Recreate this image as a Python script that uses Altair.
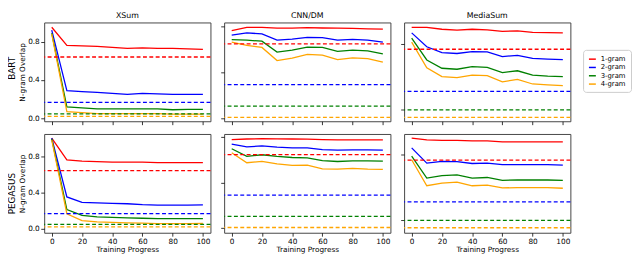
import altair as alt
import pandas as pd

progress = [0, 10, 20, 30, 40, 50, 60, 70, 80, 90, 100]
ngrams = ["1-gram", "2-gram", "3-gram", "4-gram"]
colors = ["red", "blue", "green", "orange"]
datasets = ["XSum", "CNN/DM", "MediaSum"]
models = ["BART", "PEGASUS"]

# Fine-tuned model n-gram overlap over training progress
bart_xsum = {
    "1-gram": [0.95, 0.76, 0.755, 0.75, 0.74, 0.73, 0.735, 0.73, 0.73, 0.725, 0.72],
    "2-gram": [0.92, 0.29, 0.28, 0.27, 0.26, 0.25, 0.26, 0.255, 0.25, 0.25, 0.25],
    "3-gram": [0.89, 0.12, 0.11, 0.10, 0.10, 0.10, 0.10, 0.10, 0.09, 0.095, 0.095],
    "4-gram": [0.88, 0.07, 0.06, 0.05, 0.05, 0.05, 0.05, 0.05, 0.045, 0.045, 0.045],
}
bart_cnndm = {
    "1-gram": [0.96, 0.987, 0.987, 0.98, 0.98, 0.985, 0.982, 0.98, 0.978, 0.975, 0.972],
    "2-gram": [0.92, 0.939, 0.931, 0.877, 0.885, 0.901, 0.899, 0.877, 0.883, 0.877, 0.859],
    "3-gram": [0.88, 0.877, 0.867, 0.773, 0.789, 0.816, 0.813, 0.779, 0.789, 0.784, 0.757],
    "4-gram": [0.859, 0.832, 0.813, 0.699, 0.72, 0.752, 0.747, 0.707, 0.723, 0.715, 0.685],
}
bart_mediasum = {
    "1-gram": [0.949, 0.949, 0.932, 0.924, 0.932, 0.927, 0.913, 0.918, 0.904, 0.901, 0.899],
    "2-gram": [0.899, 0.772, 0.718, 0.71, 0.727, 0.724, 0.682, 0.693, 0.665, 0.659, 0.654],
    "3-gram": [0.851, 0.651, 0.575, 0.566, 0.589, 0.583, 0.535, 0.552, 0.513, 0.504, 0.499],
    "4-gram": [0.814, 0.58, 0.499, 0.49, 0.513, 0.507, 0.451, 0.473, 0.431, 0.423, 0.417],
}
pegasus_xsum = {
    "1-gram": [1.0, 0.76, 0.745, 0.74, 0.735, 0.735, 0.735, 0.73, 0.73, 0.73, 0.73],
    "2-gram": [1.0, 0.35, 0.29, 0.285, 0.28, 0.275, 0.265, 0.26, 0.26, 0.26, 0.263],
    "3-gram": [0.99, 0.21, 0.148, 0.13, 0.125, 0.12, 0.115, 0.11, 0.11, 0.11, 0.112],
    "4-gram": [0.98, 0.165, 0.09, 0.075, 0.07, 0.065, 0.06, 0.055, 0.055, 0.055, 0.057],
}
pegasus_cnndm = {
    "1-gram": [0.976, 0.981, 0.984, 0.982, 0.981, 0.979, 0.976, 0.973, 0.973, 0.973, 0.973],
    "2-gram": [0.936, 0.912, 0.92, 0.909, 0.904, 0.904, 0.888, 0.883, 0.885, 0.885, 0.883],
    "3-gram": [0.896, 0.829, 0.843, 0.829, 0.819, 0.816, 0.792, 0.784, 0.789, 0.789, 0.787],
    "4-gram": [0.861, 0.773, 0.784, 0.763, 0.749, 0.752, 0.72, 0.717, 0.723, 0.717, 0.715],
}
pegasus_mediasum = {
    "1-gram": [0.952, 0.935, 0.932, 0.93, 0.927, 0.927, 0.918, 0.918, 0.918, 0.918, 0.918],
    "2-gram": [0.862, 0.721, 0.738, 0.735, 0.718, 0.721, 0.707, 0.707, 0.707, 0.707, 0.704],
    "3-gram": [0.786, 0.583, 0.606, 0.614, 0.583, 0.589, 0.563, 0.566, 0.566, 0.566, 0.563],
    "4-gram": [0.752, 0.513, 0.538, 0.546, 0.513, 0.518, 0.493, 0.496, 0.496, 0.496, 0.49],
}

# Reference-summary n-gram overlap (dashed lines), order: 1..4-gram
reference = {
    "XSum": [0.64, 0.167, 0.048, 0.02],
    "CNN/DM": [0.845, 0.49, 0.303, 0.206],
    "MediaSum": [0.749, 0.364, 0.194, 0.126],
}

series = {
    ("BART", "XSum"): bart_xsum,
    ("BART", "CNN/DM"): bart_cnndm,
    ("BART", "MediaSum"): bart_mediasum,
    ("PEGASUS", "XSum"): pegasus_xsum,
    ("PEGASUS", "CNN/DM"): pegasus_cnndm,
    ("PEGASUS", "MediaSum"): pegasus_mediasum,
}

y_domains = {
    ("BART", "XSum"): [-0.03, 1.0],
    ("BART", "CNN/DM"): [0.172, 1.03],
    ("BART", "MediaSum"): [0.09, 0.994],
    ("PEGASUS", "XSum"): [-0.045, 1.045],
    ("PEGASUS", "CNN/DM"): [0.16, 1.025],
    ("PEGASUS", "MediaSum"): [0.08, 0.99],
}

FONT = "DejaVu Sans"
cscale = alt.Scale(domain=ngrams, range=colors)
tick_candidates = [0.0, 0.2, 0.4, 0.6, 0.8, 1.0]

LEGEND = alt.Legend(
    title=None, orient="none", legendX=551, legendY=28,
    symbolType="stroke", symbolStrokeWidth=1.5, symbolSize=50,
    labelFontSize=7, labelFont=FONT, labelColor="black",
    strokeColor="#cccccc", cornerRadius=3, padding=5,
    rowPadding=0.5, fillColor="white", labelOffset=4,
)


def panel(model, ds, row, col):
    rows = []
    for ng in ngrams:
        for p, v in zip(progress, series[(model, ds)][ng]):
            rows.append({"progress": p, "value": v, "ngram": ng})
    df = pd.DataFrame(rows)
    ref = pd.DataFrame({"ngram": ngrams, "value": reference[ds]})
    dom = y_domains[(model, ds)]
    ticks = [t for t in tick_candidates if dom[0] <= t <= dom[1]]
    bottom = row == 1
    left = col == 0

    xenc = alt.X(
        "progress:Q",
        scale=alt.Scale(domain=[-5, 105], nice=False, zero=False),
        axis=alt.Axis(values=[0, 20, 40, 60, 80, 100], labels=bottom,
                      title="Training Progress" if bottom else None),
    )
    yenc = alt.Y(
        "value:Q",
        scale=alt.Scale(domain=dom, nice=False, zero=False),
        axis=alt.Axis(values=ticks, labels=left, format=".1f",
                      title="N-gram Overlap" if left else None),
    )
    lines = alt.Chart(df).mark_line(strokeWidth=1.3).encode(
        x=xenc, y=yenc,
        color=alt.Color("ngram:N", scale=cscale, legend=LEGEND),
    )
    rules = alt.Chart(ref).mark_rule(strokeWidth=1.3, strokeDash=[4, 2.5]).encode(
        y=alt.Y("value:Q"),
        color=alt.Color("ngram:N", scale=cscale, legend=LEGEND),
    )
    ch = alt.layer(lines, rules).properties(width=170, height=101)
    if row == 0:
        ch = ch.properties(title=alt.TitleParams(ds, fontSize=8, offset=3))
    return ch


rows_charts = []
for r, m in enumerate(models):
    panels = [panel(m, ds, r, c) for c, ds in enumerate(datasets)]
    rows_charts.append(
        alt.hconcat(*panels, spacing=7).properties(
            title=alt.TitleParams(m, orient="left", fontSize=9, offset=1, anchor="middle")
        )
    )

chart = (
    alt.vconcat(*rows_charts, spacing=7)
    .properties(padding={"left": 0, "top": 0, "right": 0, "bottom": 0}, background="white")
    .configure_view(stroke="#444444", strokeWidth=1)
    .configure_axis(
        domain=False, grid=False, tickColor="black", tickSize=3.5, tickWidth=0.8,
        labelFontSize=7.5, titleFontSize=7.5, labelFont=FONT, titleFont=FONT,
        titleFontWeight="normal", labelColor="black", titleColor="black",
        labelPadding=1.5, titlePadding=1,
    )
    .configure_title(font=FONT, fontWeight="normal", color="black")
)

chart.save("out.html", embed_options={"renderer": "svg", "actions": False})
